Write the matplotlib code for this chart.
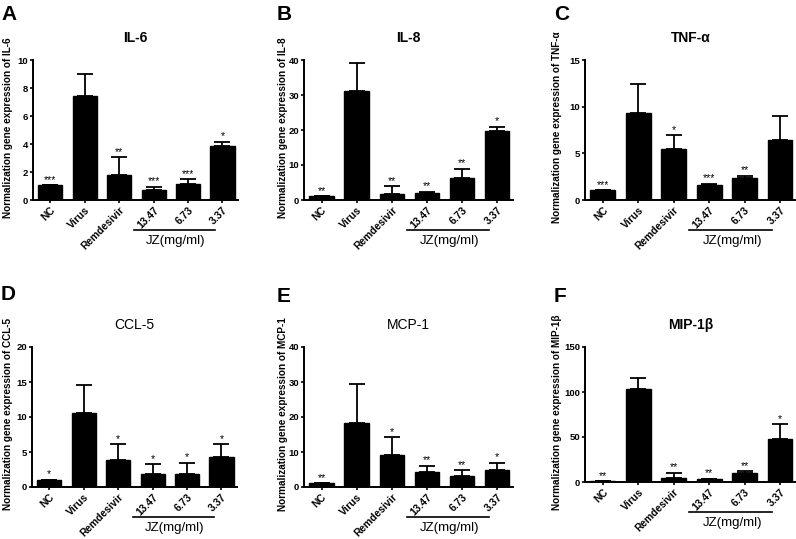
import matplotlib
matplotlib.use("Agg")
import matplotlib.pyplot as plt
import matplotlib.transforms as mtransforms

plt.rcParams["font.family"] = ["Liberation Sans", "DejaVu Sans"]

groups = ["NC", "Virus", "Remdesivir", "13.47", "6.73", "3.37"]

# mean values, upper error bar tops, significance stars
il6_mean = [1.05, 7.43, 1.77, 0.70, 1.13, 3.87]
il6_top = [1.05, 9.03, 3.07, 0.93, 1.47, 4.15]
il6_stars = ["***", "", "**", "***", "***", "*"]

il8_mean = [1.1, 31.2, 1.8, 2.1, 6.3, 19.7]
il8_top = [1.1, 39.2, 4.0, 2.4, 8.9, 20.9]
il8_stars = ["**", "", "**", "**", "**", "*"]

tnf_mean = [1.07, 9.3, 5.43, 1.6, 2.39, 6.43]
tnf_top = [1.07, 12.4, 6.96, 1.75, 2.6, 9.04]
tnf_stars = ["***", "", "*", "***", "**", ""]

ccl5_mean = [1.05, 10.6, 3.9, 1.8, 1.9, 4.24]
ccl5_top = [1.05, 14.6, 6.1, 3.24, 3.5, 6.14]
ccl5_stars = ["*", "", "*", "*", "*", "*"]

mcp1_mean = [1.14, 18.3, 9.05, 4.2, 3.2, 5.0]
mcp1_top = [1.14, 29.4, 14.2, 6.1, 4.8, 7.0]
mcp1_stars = ["**", "", "*", "**", "**", "*"]

mip_mean = [1.1, 103.7, 3.9, 3.3, 9.6, 47.4]
mip_top = [1.1, 115.6, 10.4, 3.8, 12.2, 64.0]
mip_stars = ["**", "", "**", "**", "**", "*"]

panels = [
    ("A", "IL-6", il6_mean, il6_top, il6_stars, 10, 2, True),
    ("B", "IL-8", il8_mean, il8_top, il8_stars, 40, 10, True),
    ("C", "TNF-\u03b1", tnf_mean, tnf_top, tnf_stars, 15, 5, True),
    ("D", "CCL-5", ccl5_mean, ccl5_top, ccl5_stars, 20, 5, False),
    ("E", "MCP-1", mcp1_mean, mcp1_top, mcp1_stars, 40, 10, False),
    ("F", "MIP-1\u03b2", mip_mean, mip_top, mip_stars, 150, 50, True),
]

W, H = 796, 539
# axes boxes in pixels: left, right, top, bottom
boxes = [
    (33, 238, 60, 200),
    (304, 513, 60, 200),
    (585, 796, 60, 200),
    (32, 237, 347, 487),
    (304, 513, 347, 487),
    (585, 796, 347, 482),
]
letter_pos = [(1, 20), (277, 20), (554, 20), (1, 300), (277, 302), (554, 302)]
# right edge (pixels) of the rotated y label
ylabel_x = [13, 288, 562, 13, 288, 562]

fig = plt.figure(figsize=(W / 100, H / 100), dpi=100)

for (letter, title, mean, top, stars, ymax, step, bold_title), box, lp, lx in zip(
        panels, boxes, letter_pos, ylabel_x):
    l, r, t, b = box
    ax = fig.add_axes([l / W, 1 - b / H, (r - l) / W, (b - t) / H])
    x = list(range(len(groups)))
    err = [tp - m for tp, m in zip(top, mean)]
    ax.bar(x, mean, width=0.7, color="black", edgecolor="black")
    ax.errorbar(x, mean, yerr=[[0] * len(x), err], fmt="none", ecolor="black",
                elinewidth=1.3, capsize=5.5, capthick=1.3)
    for xi, tp, s in zip(x, top, stars):
        if s:
            ax.text(xi, tp + ymax * 0.003, s, ha="center", va="bottom", fontsize=7.5)
    ax.set_xlim(-0.5, 5.45)
    ax.set_ylim(0, ymax)
    ax.set_yticks(range(0, ymax + 1, step))
    ax.set_xticks(x)
    ax.set_xticklabels(groups, rotation=45, ha="right", rotation_mode="anchor",
                       fontsize=7.4, fontweight="bold")
    for lab in ax.get_yticklabels():
        lab.set_fontweight("bold")
        lab.set_fontsize(6.8)
    ax.tick_params(axis="y", length=2.5, width=1.2, pad=1)
    ax.tick_params(axis="x", length=2.5, width=1.2, pad=1)
    for side in ["top", "right"]:
        ax.spines[side].set_visible(False)
    for side in ["left", "bottom"]:
        ax.spines[side].set_linewidth(1.4)
    ax.set_ylabel("Normalization gene expression of " + title, fontsize=7.2,
                  fontweight="bold")
    ax.yaxis.set_label_coords((lx - l) / (r - l), 0.52)
    ax.text(0.5, 1 + 22 / (b - t), title, transform=ax.transAxes, ha="center",
            va="center", fontsize=10, fontweight="bold" if bold_title else "normal")
    # JZ group bracket
    trans = mtransforms.blended_transform_factory(ax.transData, ax.transAxes)
    ax.plot([2.43, 4.78], [-30 / (b - t)] * 2, color="black", lw=1.2,
            transform=trans, clip_on=False)
    ax.text(3.65, -41 / (b - t), "JZ(mg/ml)", transform=trans, ha="center",
            va="center", fontsize=9.5)
    fig.text(lp[0] / W, 1 - lp[1] / H, letter, fontsize=15, fontweight="bold",
             ha="left", va="baseline")

plt.savefig("out.png", dpi=100)
